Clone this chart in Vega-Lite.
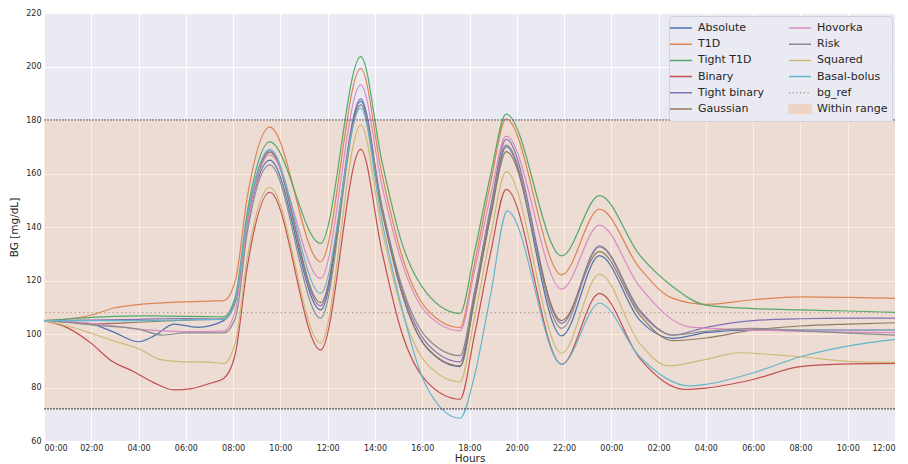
{
  "$schema": "https://vega.github.io/schema/vega-lite/v6.json",
  "autosize": "none",
  "width": 851,
  "height": 428,
  "padding": {"left": 44, "top": 13, "right": 13, "bottom": 23},
  "background": "white",
  "config": {
    "font": "DejaVu Sans",
    "view": {"fill": "#EAEAF2", "stroke": null},
    "axis": {"grid": true, "gridColor": "#FFFFFF", "gridWidth": 1, "domain": false, "ticks": false, "labelColor": "#262626", "titleColor": "#262626", "labelFontSize": 8, "titleFontSize": 10.5, "titleFontWeight": "normal", "labelPadding": 3}
  },
  "datasets": {
    "range": [{"lo": 72, "hi": 180}],
    "limits": [{"v": 72}, {"v": 180}],
    "ref": [{"v": 108}],
    "bg": [
      {"s":"Absolute","h":0,"bg":105},{"s":"Absolute","h":1,"bg":104.5},{"s":"Absolute","h":2,"bg":103.7},{"s":"Absolute","h":3,"bg":100.5},{"s":"Absolute","h":4,"bg":97.1},{"s":"Absolute","h":4.7,"bg":99.5},{"s":"Absolute","h":5.5,"bg":103.7},{"s":"Absolute","h":6.5,"bg":102.5},{"s":"Absolute","h":7.6,"bg":105},{"s":"Absolute","h":8.1,"bg":112.2},{"s":"Absolute","h":8.6,"bg":141},{"s":"Absolute","h":9.55,"bg":165},{"s":"Absolute","h":11.7,"bg":109},{"s":"Absolute","h":13.4,"bg":187},{"s":"Absolute","h":14.3,"bg":146.8},{"s":"Absolute","h":15.1,"bg":116.6},{"s":"Absolute","h":16.2,"bg":94.7},{"s":"Absolute","h":17.6,"bg":87.8},{"s":"Absolute","h":18.2,"bg":112.5},{"s":"Absolute","h":18.9,"bg":145.3},{"s":"Absolute","h":19.55,"bg":170},{"s":"Absolute","h":21.9,"bg":99.3},{"s":"Absolute","h":23.5,"bg":129.3},{"s":"Absolute","h":25.2,"bg":105.2},{"s":"Absolute","h":26.6,"bg":98.4},{"s":"Absolute","h":28,"bg":100.5},{"s":"Absolute","h":30,"bg":101.5},{"s":"Absolute","h":32,"bg":101.5},{"s":"Absolute","h":34,"bg":101.5},{"s":"Absolute","h":36,"bg":101.5},
      {"s":"T1D","h":0,"bg":105},{"s":"T1D","h":1,"bg":105.6},{"s":"T1D","h":2,"bg":107.1},{"s":"T1D","h":3,"bg":109.8},{"s":"T1D","h":4,"bg":111},{"s":"T1D","h":5,"bg":111.6},{"s":"T1D","h":6,"bg":112},{"s":"T1D","h":7,"bg":112.3},{"s":"T1D","h":7.6,"bg":112.5},{"s":"T1D","h":8.1,"bg":120.2},{"s":"T1D","h":8.6,"bg":151.3},{"s":"T1D","h":9.55,"bg":177.3},{"s":"T1D","h":11.7,"bg":127},{"s":"T1D","h":13.4,"bg":199.3},{"s":"T1D","h":14.3,"bg":159.6},{"s":"T1D","h":15.1,"bg":130.5},{"s":"T1D","h":16.2,"bg":109.2},{"s":"T1D","h":17.6,"bg":102.4},{"s":"T1D","h":18.2,"bg":125.8},{"s":"T1D","h":18.9,"bg":157},{"s":"T1D","h":19.55,"bg":180.4},{"s":"T1D","h":21.9,"bg":122.1},{"s":"T1D","h":23.5,"bg":146.7},{"s":"T1D","h":25.2,"bg":124.6},{"s":"T1D","h":26.6,"bg":113.3},{"s":"T1D","h":28,"bg":111.1},{"s":"T1D","h":30,"bg":112.8},{"s":"T1D","h":32,"bg":113.9},{"s":"T1D","h":34,"bg":113.7},{"s":"T1D","h":36,"bg":113.3},
      {"s":"Tight T1D","h":0,"bg":105},{"s":"Tight T1D","h":1,"bg":105.6},{"s":"Tight T1D","h":2,"bg":106.2},{"s":"Tight T1D","h":3,"bg":106.6},{"s":"Tight T1D","h":4,"bg":106.8},{"s":"Tight T1D","h":5,"bg":106.7},{"s":"Tight T1D","h":6,"bg":106.6},{"s":"Tight T1D","h":7,"bg":106.5},{"s":"Tight T1D","h":7.6,"bg":106.4},{"s":"Tight T1D","h":8.1,"bg":114.2},{"s":"Tight T1D","h":8.6,"bg":145.6},{"s":"Tight T1D","h":9.55,"bg":171.8},{"s":"Tight T1D","h":11.7,"bg":133.9},{"s":"Tight T1D","h":13.4,"bg":203.7},{"s":"Tight T1D","h":14.3,"bg":164.3},{"s":"Tight T1D","h":15.1,"bg":135.1},{"s":"Tight T1D","h":16.2,"bg":115.2},{"s":"Tight T1D","h":17.6,"bg":107.7},{"s":"Tight T1D","h":18.2,"bg":130.1},{"s":"Tight T1D","h":18.9,"bg":159.9},{"s":"Tight T1D","h":19.55,"bg":182.2},{"s":"Tight T1D","h":21.9,"bg":129.2},{"s":"Tight T1D","h":23.5,"bg":151.7},{"s":"Tight T1D","h":25.2,"bg":129.5},{"s":"Tight T1D","h":26.6,"bg":117.7},{"s":"Tight T1D","h":28,"bg":110.8},{"s":"Tight T1D","h":30,"bg":109.5},{"s":"Tight T1D","h":32,"bg":109},{"s":"Tight T1D","h":34,"bg":108.6},{"s":"Tight T1D","h":36,"bg":108.1},
      {"s":"Binary","h":0,"bg":105},{"s":"Binary","h":1,"bg":102.3},{"s":"Binary","h":2,"bg":96.5},{"s":"Binary","h":2.8,"bg":90.3},{"s":"Binary","h":3.8,"bg":85.9},{"s":"Binary","h":4.6,"bg":82},{"s":"Binary","h":5.5,"bg":79.1},{"s":"Binary","h":6.2,"bg":79.5},{"s":"Binary","h":7,"bg":81.5},{"s":"Binary","h":7.6,"bg":83.4},{"s":"Binary","h":8.1,"bg":92.9},{"s":"Binary","h":8.6,"bg":125.2},{"s":"Binary","h":9.55,"bg":153},{"s":"Binary","h":11.7,"bg":94},{"s":"Binary","h":13.4,"bg":169},{"s":"Binary","h":14.3,"bg":130.7},{"s":"Binary","h":15.1,"bg":101.5},{"s":"Binary","h":16.2,"bg":82.1},{"s":"Binary","h":17.6,"bg":75.6},{"s":"Binary","h":18.2,"bg":99.2},{"s":"Binary","h":18.9,"bg":130.6},{"s":"Binary","h":19.55,"bg":154.1},{"s":"Binary","h":21.9,"bg":88.7},{"s":"Binary","h":23.5,"bg":115.2},{"s":"Binary","h":25.2,"bg":90.9},{"s":"Binary","h":27.1,"bg":79.3},{"s":"Binary","h":28,"bg":79.8},{"s":"Binary","h":30,"bg":83},{"s":"Binary","h":32,"bg":87.8},{"s":"Binary","h":34,"bg":88.8},{"s":"Binary","h":36,"bg":89},
      {"s":"Tight binary","h":0,"bg":105},{"s":"Tight binary","h":2,"bg":105.2},{"s":"Tight binary","h":4,"bg":105.5},{"s":"Tight binary","h":6,"bg":105.8},{"s":"Tight binary","h":7.6,"bg":105.6},{"s":"Tight binary","h":8.1,"bg":113},{"s":"Tight binary","h":8.6,"bg":143.3},{"s":"Tight binary","h":9.55,"bg":168.5},{"s":"Tight binary","h":11.7,"bg":110.5},{"s":"Tight binary","h":13.4,"bg":187.9},{"s":"Tight binary","h":14.3,"bg":147.6},{"s":"Tight binary","h":15.1,"bg":118.1},{"s":"Tight binary","h":16.2,"bg":96.5},{"s":"Tight binary","h":17.6,"bg":89.6},{"s":"Tight binary","h":18.2,"bg":114.6},{"s":"Tight binary","h":18.9,"bg":147.8},{"s":"Tight binary","h":19.55,"bg":172.8},{"s":"Tight binary","h":21.9,"bg":104},{"s":"Tight binary","h":23.5,"bg":133},{"s":"Tight binary","h":25.2,"bg":109},{"s":"Tight binary","h":26.6,"bg":99.6},{"s":"Tight binary","h":28,"bg":102.5},{"s":"Tight binary","h":30,"bg":105},{"s":"Tight binary","h":32,"bg":105.7},{"s":"Tight binary","h":34,"bg":105.9},{"s":"Tight binary","h":36,"bg":105.9},
      {"s":"Gaussian","h":0,"bg":105},{"s":"Gaussian","h":1,"bg":104.5},{"s":"Gaussian","h":2,"bg":103.8},{"s":"Gaussian","h":4,"bg":104.4},{"s":"Gaussian","h":6,"bg":105.2},{"s":"Gaussian","h":7.6,"bg":105.6},{"s":"Gaussian","h":8.1,"bg":112.6},{"s":"Gaussian","h":8.6,"bg":141},{"s":"Gaussian","h":9.55,"bg":168},{"s":"Gaussian","h":11.7,"bg":111.7},{"s":"Gaussian","h":13.4,"bg":185.6},{"s":"Gaussian","h":14.3,"bg":145.6},{"s":"Gaussian","h":15.1,"bg":116.4},{"s":"Gaussian","h":16.2,"bg":94.9},{"s":"Gaussian","h":17.6,"bg":88.1},{"s":"Gaussian","h":18.2,"bg":112.1},{"s":"Gaussian","h":18.9,"bg":144.2},{"s":"Gaussian","h":19.55,"bg":168.2},{"s":"Gaussian","h":21.9,"bg":105},{"s":"Gaussian","h":23.5,"bg":130.8},{"s":"Gaussian","h":25.2,"bg":107.1},{"s":"Gaussian","h":26.6,"bg":97.5},{"s":"Gaussian","h":28,"bg":98.5},{"s":"Gaussian","h":30,"bg":101.5},{"s":"Gaussian","h":32,"bg":103},{"s":"Gaussian","h":34,"bg":103.7},{"s":"Gaussian","h":36,"bg":104.2},
      {"s":"Hovorka","h":0,"bg":105},{"s":"Hovorka","h":1,"bg":104.6},{"s":"Hovorka","h":2,"bg":104},{"s":"Hovorka","h":3,"bg":103},{"s":"Hovorka","h":4,"bg":101.8},{"s":"Hovorka","h":5,"bg":101.2},{"s":"Hovorka","h":6,"bg":100.9},{"s":"Hovorka","h":7.6,"bg":101.1},{"s":"Hovorka","h":8.1,"bg":109},{"s":"Hovorka","h":8.6,"bg":140.4},{"s":"Hovorka","h":9.55,"bg":167},{"s":"Hovorka","h":11.7,"bg":120.8},{"s":"Hovorka","h":13.4,"bg":193.1},{"s":"Hovorka","h":14.3,"bg":155.4},{"s":"Hovorka","h":15.1,"bg":127.8},{"s":"Hovorka","h":16.2,"bg":107.6},{"s":"Hovorka","h":17.6,"bg":101.2},{"s":"Hovorka","h":18.2,"bg":123},{"s":"Hovorka","h":18.9,"bg":152.2},{"s":"Hovorka","h":19.55,"bg":174},{"s":"Hovorka","h":21.9,"bg":116.8},{"s":"Hovorka","h":23.5,"bg":140.7},{"s":"Hovorka","h":25.2,"bg":117.7},{"s":"Hovorka","h":27.3,"bg":102.7},{"s":"Hovorka","h":30,"bg":101.5},{"s":"Hovorka","h":32,"bg":101},{"s":"Hovorka","h":34,"bg":100.7},{"s":"Hovorka","h":36,"bg":100.5},
      {"s":"Risk","h":0,"bg":105},{"s":"Risk","h":1,"bg":104.3},{"s":"Risk","h":2,"bg":103.4},{"s":"Risk","h":4,"bg":101.8},{"s":"Risk","h":5,"bg":99.6},{"s":"Risk","h":6,"bg":100.4},{"s":"Risk","h":7.6,"bg":100.4},{"s":"Risk","h":8.1,"bg":106},{"s":"Risk","h":8.6,"bg":138},{"s":"Risk","h":9.55,"bg":163.2},{"s":"Risk","h":11.7,"bg":105.9},{"s":"Risk","h":13.4,"bg":185.6},{"s":"Risk","h":14.3,"bg":147.2},{"s":"Risk","h":15.1,"bg":119.1},{"s":"Risk","h":16.2,"bg":98.5},{"s":"Risk","h":17.6,"bg":91.9},{"s":"Risk","h":18.2,"bg":115.5},{"s":"Risk","h":18.9,"bg":147},{"s":"Risk","h":19.55,"bg":170.6},{"s":"Risk","h":21.9,"bg":102.1},{"s":"Risk","h":23.5,"bg":132.6},{"s":"Risk","h":25.2,"bg":108.3},{"s":"Risk","h":26.6,"bg":99.6},{"s":"Risk","h":28,"bg":101},{"s":"Risk","h":30,"bg":102.1},{"s":"Risk","h":32,"bg":101.2},{"s":"Risk","h":34,"bg":100.3},{"s":"Risk","h":36,"bg":99.6},
      {"s":"Squared","h":0,"bg":105},{"s":"Squared","h":1,"bg":103},{"s":"Squared","h":2,"bg":100.3},{"s":"Squared","h":3,"bg":97.3},{"s":"Squared","h":4,"bg":94.5},{"s":"Squared","h":5,"bg":90.3},{"s":"Squared","h":6,"bg":89.6},{"s":"Squared","h":7,"bg":89.5},{"s":"Squared","h":7.6,"bg":89},{"s":"Squared","h":8.1,"bg":97},{"s":"Squared","h":8.6,"bg":128.5},{"s":"Squared","h":9.55,"bg":154.8},{"s":"Squared","h":11.7,"bg":96.7},{"s":"Squared","h":13.4,"bg":178.1},{"s":"Squared","h":14.3,"bg":138.7},{"s":"Squared","h":15.1,"bg":109.9},{"s":"Squared","h":16.2,"bg":88.8},{"s":"Squared","h":17.6,"bg":82.1},{"s":"Squared","h":18.2,"bg":105.7},{"s":"Squared","h":18.9,"bg":137.1},{"s":"Squared","h":19.55,"bg":160.7},{"s":"Squared","h":21.9,"bg":92.8},{"s":"Squared","h":23.5,"bg":122.4},{"s":"Squared","h":25.2,"bg":96.5},{"s":"Squared","h":26.4,"bg":88.1},{"s":"Squared","h":28,"bg":90.5},{"s":"Squared","h":29.4,"bg":93},{"s":"Squared","h":31,"bg":92.2},{"s":"Squared","h":32,"bg":91.5},{"s":"Squared","h":34,"bg":89.8},{"s":"Squared","h":36,"bg":89.4},
      {"s":"Basal-bolus","h":0,"bg":105},{"s":"Basal-bolus","h":2,"bg":105},{"s":"Basal-bolus","h":4,"bg":105},{"s":"Basal-bolus","h":6,"bg":105.3},{"s":"Basal-bolus","h":7.6,"bg":105.5},{"s":"Basal-bolus","h":8.1,"bg":113},{"s":"Basal-bolus","h":8.6,"bg":143.6},{"s":"Basal-bolus","h":9.55,"bg":169},{"s":"Basal-bolus","h":11.7,"bg":115.2},{"s":"Basal-bolus","h":13.4,"bg":184.4},{"s":"Basal-bolus","h":14.3,"bg":142},{"s":"Basal-bolus","h":15.1,"bg":111},{"s":"Basal-bolus","h":16.2,"bg":80},{"s":"Basal-bolus","h":17.6,"bg":68.5},{"s":"Basal-bolus","h":18.2,"bg":84},{"s":"Basal-bolus","h":18.9,"bg":115},{"s":"Basal-bolus","h":19.6,"bg":146},{"s":"Basal-bolus","h":21.9,"bg":88.7},{"s":"Basal-bolus","h":23.5,"bg":111.5},{"s":"Basal-bolus","h":25.2,"bg":91.5},{"s":"Basal-bolus","h":27.3,"bg":80.6},{"s":"Basal-bolus","h":28,"bg":81.2},{"s":"Basal-bolus","h":30,"bg":85.5},{"s":"Basal-bolus","h":32,"bg":91.5},{"s":"Basal-bolus","h":34,"bg":95.5},{"s":"Basal-bolus","h":36,"bg":98}
    ]
  },
  "layer": [
    {
      "data": {"name": "range"},
      "mark": {"type": "rect", "opacity": 0.2},
      "encoding": {
        "y": {"field": "lo", "type": "quantitative"},
        "y2": {"field": "hi"},
        "color": {"datum": "Within range"}
      }
    },
    {
      "data": {"name": "ref"},
      "mark": {"type": "rule", "strokeDash": [1.2, 3], "strokeWidth": 1.2},
      "encoding": {
        "y": {"field": "v", "type": "quantitative"},
        "color": {"datum": "bg_ref"}
      }
    },
    {
      "data": {"name": "bg"},
      "mark": {"type": "line", "interpolate": "monotone", "strokeWidth": 1.2},
      "encoding": {
        "x": {"field": "h", "type": "quantitative", "title": "Hours",
              "scale": {"domain": [0, 36], "nice": false, "zero": false},
              "axis": {"values": [0,2,4,6,8,10,12,14,16,18,20,22,24,26,28,30,32,34,36],
                       "labelExpr": "(datum.value % 24 < 10 ? '0' : '') + (datum.value % 24) + ':00'",
                       "titlePadding": 1}},
        "y": {"field": "bg", "type": "quantitative", "title": "BG [mg/dL]",
              "scale": {"domain": [60, 220], "nice": false, "zero": false},
              "axis": {"values": [60,80,100,120,140,160,180,200,220], "titlePadding": 6}},
        "color": {
          "field": "s", "type": "nominal",
          "scale": {
            "domain": ["Absolute","T1D","Tight T1D","Binary","Tight binary","Gaussian","Hovorka","Risk","Squared","Basal-bolus","bg_ref","Within range"],
            "range": ["#4C72B0","#DD8452","#55A868","#C44E52","#8172B3","#937860","#DA8BC3","#8C8C8C","#CCB974","#64B5CD","#B09A8C","#F4A460"]
          },
          "legend": {
            "title": null,
            "orient": "top-right",
            "offset": 3,
            "columns": 2,
            "columnPadding": 22,
            "rowPadding": 3.2,
            "padding": 4,
            "symbolType": "stroke",
            "symbolSize": 196,
            "symbolStrokeWidth": 1.5,
            "labelFontSize": 11,
            "labelColor": "#262626",
            "labelOffset": 9,
            "fillColor": "#EAEAF2",
            "strokeColor": "#D0D0D8",
            "cornerRadius": 3,
            "encode": {
              "symbols": {
                "update": {
                  "shape": {"signal": "datum.value === 'Within range' ? 'M-1.57,-0.6H1.57V0.6H-1.57Z' : 'M-1.57,0H1.57'"},
                  "fill": {"signal": "datum.value === 'Within range' ? '#F4A460' : 'transparent'"},
                  "stroke": {"signal": "datum.value === 'Within range' ? 'transparent' : scale('color', datum.value)"},
                  "strokeDash": {"signal": "datum.value === 'bg_ref' ? [1.2, 2.5] : [1, 0]"},
                  "opacity": {"signal": "datum.value === 'Within range' ? 0.3 : 1"}
                }
              }
            }
          }
        }
      }
    },
    {
      "data": {"name": "limits"},
      "mark": {"type": "rule", "color": "#555555", "strokeDash": [2, 1], "strokeWidth": 1.2},
      "encoding": {
        "y": {"field": "v", "type": "quantitative"}
      }
    }
  ]
}
